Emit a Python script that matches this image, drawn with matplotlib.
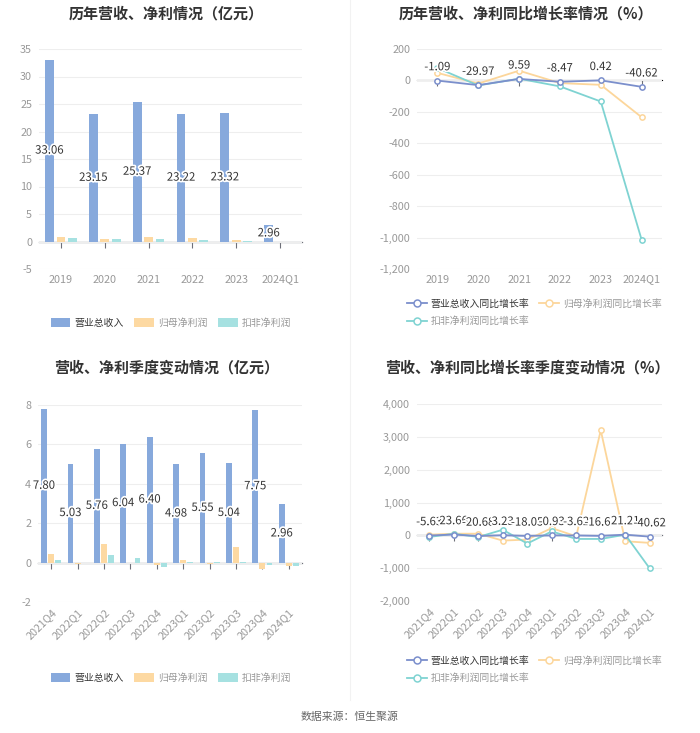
import numpy as np
import matplotlib
matplotlib.use('Agg')
from matplotlib import pyplot as plt
from matplotlib.lines import Line2D
from matplotlib.patches import Patch
import matplotlib.patheffects as pe

plt.rcParams['font.family'] = ['Noto Sans CJK SC', 'DejaVu Sans']
plt.rcParams['axes.unicode_minus'] = False

# 年度数据（亿元）
years = ['2019', '2020', '2021', '2022', '2023', '2024Q1']
rev_year = [33.06, 23.15, 25.37, 23.22, 23.32, 2.96]
np_year = [0.75, 0.50, 0.85, 0.60, 0.35, -0.08]
kf_year = [0.60, 0.40, 0.45, 0.20, 0.05, -0.10]

# 年度同比增长率（%）
rev_year_g = [-1.09, -29.97, 9.59, -8.47, 0.42, -40.62]
np_year_g = [48, -20, 62, -17, -28, -234]
kf_year_g = [79, -32, 11, -38, -134, -1013]

# 季度数据（亿元）
quarters = ['2021Q4', '2022Q1', '2022Q2', '2022Q3', '2022Q4',
            '2023Q1', '2023Q2', '2023Q3', '2023Q4', '2024Q1']
rev_q = [7.80, 5.03, 5.76, 6.04, 6.40, 4.98, 5.55, 5.04, 7.75, 2.96]
np_q = [0.45, -0.05, 0.92, -0.02, -0.10, 0.15, -0.08, 0.80, -0.33, -0.15]
kf_q = [0.15, -0.03, 0.40, 0.22, -0.20, 0.02, 0.01, 0.02, -0.12, -0.18]

# 季度同比增长率（%）
rev_q_g = [-5.63, 23.66, -20.68, 3.23, -18.05, -0.93, -3.62, -16.62, 21.21, -40.62]
np_q_g = [20, 50, 50, -160, -130, 220, -30, 3200, -180, -230]
kf_q_g = [-50, 50, -50, 170, -250, 120, -110, -110, 20, -1010]

C_REV = '#87a9dc'
C_NP = '#fdd9a2'
C_KF = '#a6e1e1'
L_REV = '#7b8fcc'
L_NP = '#fcd69b'
L_KF = '#7fd3d2'
GRID = '#eeeeee'
TICK = '#999999'

W, H = 700, 733
fig = plt.figure(figsize=(W / 100, H / 100), dpi=100)


def rect(l, t, r, b):
    return [l / W, 1 - b / H, (r - l) / W, (b - t) / H]


def style_axes(ax, cats, ylim, yticks, rot=False):
    ax.set_ylim(*ylim)
    ax.set_yticks(yticks)
    ax.set_xlim(-0.5, len(cats) - 0.5)
    ax.set_xticks(range(len(cats)))
    if rot:
        ax.set_xticklabels(cats, rotation=45, ha='right', rotation_mode='anchor')
    else:
        ax.set_xticklabels(cats)
    for s in ax.spines.values():
        s.set_visible(False)
    ax.tick_params(axis='both', length=0, colors=TICK, labelsize=7.8)
    ax.tick_params(axis='y', pad=5)
    ax.tick_params(axis='x', pad=4)
    ax.grid(axis='y', color=GRID, lw=0.8)
    ax.set_axisbelow(True)
    # 零轴
    frac = (0 - ylim[0]) / (ylim[1] - ylim[0])
    sec = ax.secondary_xaxis(frac)
    sec.set_xticks(range(len(cats)))
    sec.set_xticklabels([])
    sec.tick_params(axis='x', direction='out', length=4, color='#6e7079', width=0.8)
    sec.spines['bottom'].set_color('#6e7079')
    sec.spines['bottom'].set_linewidth(0.9)
    sec.xaxis.set_ticks_position('bottom')


halo = [pe.withStroke(linewidth=2.5, foreground='white')]


def bar_panel(ax, cats, rev, npv, kf, ylim, yticks, wid, off, rot=False):
    x = np.arange(len(cats))
    ax.bar(x - off, rev, wid, color=C_REV, zorder=2)
    ax.bar(x, npv, wid, color=C_NP, zorder=2)
    ax.bar(x + off, kf, wid, color=C_KF, zorder=2)
    for xi, v in zip(x, rev):
        ax.text(xi - off, v / 2, f'{v:.2f}', ha='center', va='center',
                fontsize=8.2, color='#333333', path_effects=halo, zorder=5)
    style_axes(ax, cats, ylim, yticks, rot)


def line_panel(ax, cats, rev, npv, kf, ylim, yticks, rot=False):
    x = np.arange(len(cats))
    mk = dict(marker='o', markersize=3.8, markerfacecolor='white', markeredgewidth=1.1, lw=1.3)
    ax.plot(x, npv, color=L_NP, zorder=3, **mk)
    ax.plot(x, kf, color=L_KF, zorder=3, **mk)
    ax.plot(x, rev, color=L_REV, zorder=4, **mk)
    for xi, v in zip(x, rev):
        ax.annotate(f'{v:.2f}', (xi, v), xytext=(0, 6), textcoords='offset points',
                    ha='center', va='bottom', fontsize=8.2, color='#333333',
                    path_effects=halo, zorder=6)
    style_axes(ax, cats, ylim, yticks, rot)
    ax.yaxis.set_major_formatter(matplotlib.ticker.FuncFormatter(lambda v, p: f'{int(v):,}'))


ax1 = fig.add_axes(rect(39, 49, 302, 269))
bar_panel(ax1, years, rev_year, np_year, kf_year, (-5, 35), range(-5, 36, 5), 0.2, 0.26)

ax2 = fig.add_axes(rect(417, 49, 662, 269))
line_panel(ax2, years, rev_year_g, np_year_g, kf_year_g, (-1200, 200), range(-1200, 201, 200))

ax3 = fig.add_axes(rect(38, 405, 302, 602))
bar_panel(ax3, quarters, rev_q, np_q, kf_q, (-2, 8), range(-2, 9, 2), 0.22, 0.27, rot=True)

ax4 = fig.add_axes(rect(417, 404, 662, 601))
line_panel(ax4, quarters, rev_q_g, np_q_g, kf_q_g, (-2000, 4000), range(-2000, 4001, 1000), rot=True)

# 标题
tkw = dict(ha='center', va='center', fontsize=10.8, fontweight='bold', color='#333333')
fig.text(166 / W, 1 - 13 / H, '历年营收、净利情况（亿元）', **tkw)
fig.text(526 / W, 1 - 13 / H, '历年营收、净利同比增长率情况（%）', **tkw)
fig.text(167 / W, 1 - 367 / H, '营收、净利季度变动情况（亿元）', **tkw)
fig.text(527 / W, 1 - 367 / H, '营收、净利同比增长率季度变动情况（%）', **tkw)

# 图例
bar_names = ['营业总收入', '归母净利润', '扣非净利润']
line_names = ['营业总收入同比增长率', '归母净利润同比增长率', '扣非净利润同比增长率']
lcolors = ['#333333', '#999999', '#999999']


def bar_legend(cy):
    handles = [Patch(facecolor=c, edgecolor='none') for c in (C_REV, C_NP, C_KF)]
    lg = fig.legend(handles, bar_names, loc='center', bbox_to_anchor=(171 / W, 1 - cy / H),
                    ncol=3, frameon=False, fontsize=7.1, handlelength=2.0, handleheight=1.0,
                    columnspacing=1.1, handletextpad=0.4)
    for t, c in zip(lg.get_texts(), lcolors):
        t.set_color(c)


def line_legend(cy):
    mk = dict(marker='o', markersize=5, markerfacecolor='white', markeredgewidth=1.1, lw=1.3)
    handles = [Line2D([], [], color=c, **mk) for c in (L_REV, L_NP, L_KF)]
    # 列优先填充：第一行为前两项，第二行为第三项
    order = [0, 2, 1]
    lg = fig.legend([handles[i] for i in order], [line_names[i] for i in order],
                    loc='upper left', bbox_to_anchor=(398 / W, 1 - cy / H),
                    ncol=2, frameon=False, fontsize=7.1, handlelength=2.0,
                    columnspacing=1.0, handletextpad=0.4, labelspacing=0.75)
    for t, i in zip(lg.get_texts(), order):
        t.set_color(lcolors[i])


bar_legend(323)
bar_legend(678)
line_legend(290)
line_legend(647)

# 分隔线
fig.add_artist(Line2D([350 / W, 350 / W], [1 - 700 / H, 1.0], color='#f2f2f2', lw=0.8))

fig.text(350 / W, 1 - 717 / H, '数据来源：恒生聚源', ha='center', va='center',
         fontsize=7.8, color='#666666')

fig.savefig('out.png', dpi=100, facecolor='white')
